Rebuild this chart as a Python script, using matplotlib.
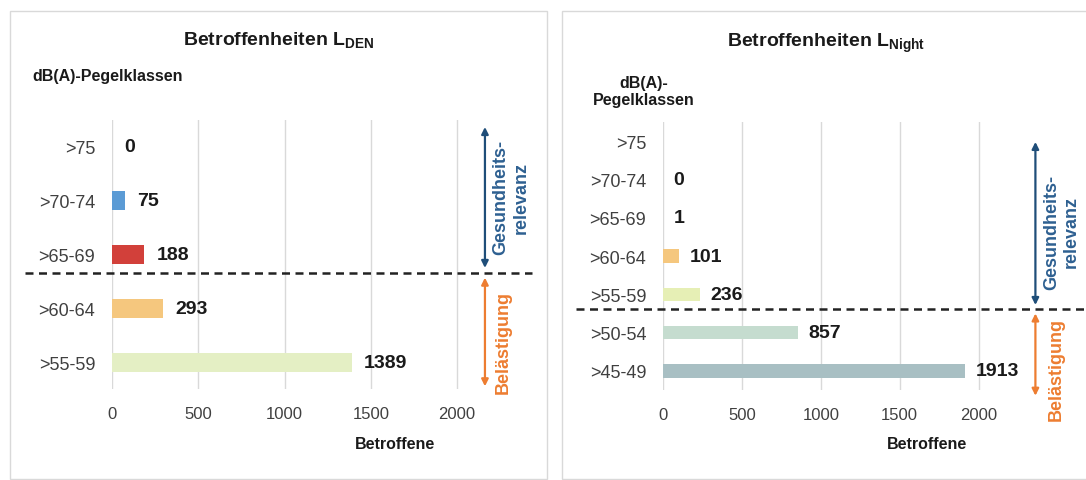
import numpy as np
import matplotlib
matplotlib.use("Agg")
import matplotlib.pyplot as plt
from matplotlib.patches import Rectangle
from matplotlib.transforms import blended_transform_factory

plt.rcParams['font.family'] = ['Liberation Sans', 'DejaVu Sans']
plt.rcParams['mathtext.fontset'] = 'custom'
plt.rcParams['mathtext.rm'] = 'Liberation Sans:bold'
plt.rcParams['mathtext.bf'] = 'Liberation Sans:bold'

# data
den_classes = ['>75', '>70-74', '>65-69', '>60-64', '>55-59']
den_values = [0, 75, 188, 293, 1389]
den_colors = ['#5b9bd5', '#5b9bd5', '#d2403a', '#f5c77e', '#e4efc4']

night_classes = ['>75', '>70-74', '>65-69', '>60-64', '>55-59', '>50-54', '>45-49']
night_values = [np.nan, 0, 1, 101, 236, 857, 1913]
night_colors = ['#f5c77e', '#f5c77e', '#f5c77e', '#f5c77e', '#e6efb5', '#c5dccf', '#a8bfc3']

ticks = [0, 500, 1000, 1500, 2000]

W, H = 1086, 481
fig = plt.figure(figsize=(W / 100, H / 100), dpi=100)

# panel frames
fig.patches.append(Rectangle((10 / W, 1 - 480 / H), 537 / W, 468 / H, transform=fig.transFigure,
                             fill=False, edgecolor='#d9d9d9', lw=1))
fig.patches.append(Rectangle((562 / W, 1 - 480 / H), 530 / W, 468 / H, transform=fig.transFigure,
                             fill=False, edgecolor='#d9d9d9', lw=1))


def panel(rect, xmax, classes, values, colors, barh, sep_y, sep_x, arrow_x, blue_rng, orange_rng,
          gtxt_xy, btxt_xy, lab_off):
    ax = fig.add_axes(rect)
    y = np.arange(len(classes))
    vals = np.nan_to_num(values)
    ax.barh(y, vals, height=barh, color=colors, zorder=2)
    for yi, v in zip(y, values):
        if np.isnan(v):
            continue
        ax.annotate(f'{int(v)}', (v, yi), xytext=(lab_off, 0), textcoords='offset points',
                    va='center', ha='left', fontsize=14, fontweight='bold', color='#1a1a1a')
    ax.set_xlim(0, xmax)
    ax.set_ylim(len(classes) - 0.5, -0.5)
    ax.set_yticks(y)
    ax.set_yticklabels(classes, fontsize=13)
    ax.set_xticks(ticks)
    ax.tick_params(length=0, labelsize=12, colors='#404040', pad=12)
    ax.tick_params(axis='y', labelsize=13, pad=12)
    for s in ax.spines.values():
        s.set_visible(False)
    ax.grid(axis='x', color='#d9d9d9', lw=1, zorder=0)
    ax.set_axisbelow(True)

    tr = blended_transform_factory(fig.transFigure, ax.transData)
    ax.plot(sep_x, [sep_y, sep_y], transform=tr, color='#222222', lw=1.8,
            linestyle=(0, (3.2, 2.2)), clip_on=False, zorder=5)

    ax.annotate('', xy=(arrow_x, blue_rng[0]), xytext=(arrow_x, blue_rng[1]),
                arrowprops=dict(arrowstyle='<|-|>', color='#1f4e79', lw=1.6, mutation_scale=10,
                                shrinkA=0, shrinkB=0), annotation_clip=False)
    ax.annotate('', xy=(arrow_x, orange_rng[0]), xytext=(arrow_x, orange_rng[1]),
                arrowprops=dict(arrowstyle='<|-|>', color='#ed7d31', lw=1.6, mutation_scale=10,
                                shrinkA=0, shrinkB=0), annotation_clip=False)
    ax.text(gtxt_xy[0], gtxt_xy[1], 'Gesundheits-\nrelevanz', rotation=90, ha='center', va='center',
            fontsize=13, fontweight='bold', color='#2e6091', linespacing=1.2, clip_on=False)
    ax.text(btxt_xy[0], btxt_xy[1], 'Belästigung', rotation=90, ha='center', va='center',
            fontsize=13, fontweight='bold', color='#ed7d31', clip_on=False)
    return ax


# left panel: L_DEN
panel([112 / W, 1 - 390 / H, 428 / W, 269 / H], 428 / 86.25 * 500,
      den_classes, den_values, den_colors, 0.35, 2.35, [25 / W, 532 / W], 2162,
      (-0.37, 2.25), (2.43, 4.45), (2313, 0.93), (2267, 3.61), 9)

# right panel: L_Night
panel([663 / W, 1 - 391 / H, 423 / W, 268 / H], 423 / 78.9 * 500,
      night_classes, night_values, night_colors, 0.35, 4.38, [576 / W, 1.0], 2360,
      (0.02, 4.28), (4.5, 6.65), (2525, 2.35), (2490, 5.95), 7.5)

fig.text(279 / W, 1 - 41 / H, r'Betroffenheiten L$_\mathrm{DEN}$', ha='center', va='center',
         fontsize=14, fontweight='bold', color='#1a1a1a')
fig.text(826 / W, 1 - 43 / H, r'Betroffenheiten L$_\mathrm{Night}$', ha='center', va='center',
         fontsize=14, fontweight='bold', color='#1a1a1a')

fig.text(32 / W, 1 - 77 / H, 'dB(A)-Pegelklassen', ha='left', va='center',
         fontsize=11.5, fontweight='bold', color='#1a1a1a')
fig.text(644 / W, 1 - 92 / H, 'dB(A)-\nPegelklassen', ha='center', va='center',
         fontsize=11.5, fontweight='bold', color='#1a1a1a', linespacing=1.15)

fig.text(395 / W, 1 - 445 / H, 'Betroffene', ha='center', va='center',
         fontsize=11.5, fontweight='bold', color='#1a1a1a')
fig.text(927 / W, 1 - 445 / H, 'Betroffene', ha='center', va='center',
         fontsize=11.5, fontweight='bold', color='#1a1a1a')

fig.savefig('out.png', dpi=100)
